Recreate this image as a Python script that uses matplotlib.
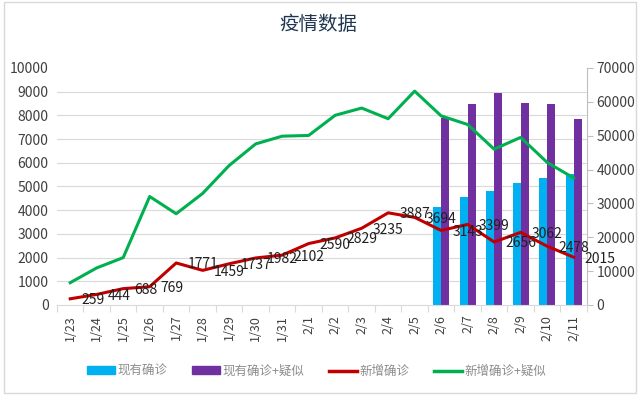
import numpy as np
import matplotlib
matplotlib.use('Agg')
import matplotlib.pyplot as plt
from matplotlib.patches import Rectangle, Patch
from matplotlib.lines import Line2D

plt.rcParams['font.family'] = ['Noto Sans CJK SC', 'DejaVu Sans']

# 数据
dates = ['1/23', '1/24', '1/25', '1/26', '1/27', '1/28', '1/29', '1/30', '1/31', '2/1',
         '2/2', '2/3', '2/4', '2/5', '2/6', '2/7', '2/8', '2/9', '2/10', '2/11']
new_confirmed = [259, 444, 688, 769, 1771, 1459, 1737, 1982, 2102, 2590,
                 2829, 3235, 3887, 3694, 3143, 3399, 2656, 3062, 2478, 2015]
new_conf_susp = [939, 1562, 1997, 4575, 3848, 4707, 5885, 6794, 7121, 7152,
                 8002, 8307, 7858, 9022, 7976, 7613, 6572, 7070, 6014, 5357]
bar_dates = ['2/6', '2/7', '2/8', '2/9', '2/10', '2/11']
existing = [28985, 31774, 33738, 35982, 37626, 38800]
existing_susp = [55344, 59431, 62680, 59571, 59301, 54867]

c_cyan = '#00B0F0'
c_purple = '#7030A0'
c_red = '#C00000'
c_green = '#00B050'

fig = plt.figure(figsize=(6.4, 3.95), dpi=100)
ax1 = fig.add_axes([0.089, 0.228, 0.828, 0.600])
ax2 = ax1.twinx()

x = np.arange(len(dates))
xb = np.array([dates.index(d) for d in bar_dates])

# 柱状图（次坐标轴）
w = 0.3
ax2.bar(xb - w / 2, existing, width=w, color=c_cyan, zorder=2)
ax2.bar(xb + w / 2, existing_susp, width=w, color=c_purple, zorder=2)
ax2.set_ylim(0, 70000)
ax2.set_yticks(np.arange(0, 70001, 10000))
# 网格线跟随主坐标轴 (每1000 -> 次轴7000)
ax2.set_yticks(np.arange(0, 70001, 7000), minor=True)
ax2.yaxis.grid(True, which='minor', color='#d9d9d9', linewidth=0.8, zorder=0)
ax2.tick_params(axis='y', which='minor', length=0)
ax2.tick_params(axis='y', which='major', length=4, color='#bfbfbf',
                labelsize=10, labelcolor='#404040', pad=3)
for s in ['top', 'left', 'bottom']:
    ax2.spines[s].set_visible(False)
ax2.spines['right'].set_color('#bfbfbf')

# 折线图（主坐标轴）
ax1.set_zorder(ax2.get_zorder() + 1)
ax1.patch.set_visible(False)
ax1.plot(x, new_conf_susp, color=c_green, linewidth=2.2, zorder=3)
ax1.plot(x, new_confirmed, color=c_red, linewidth=2.2, zorder=3)
for xi, v in zip(x, new_confirmed):
    ax1.annotate(str(v), (xi, v), xytext=(8, -1), textcoords='offset points',
                 ha='left', va='center', fontsize=10, color='#202020', zorder=4,
                 annotation_clip=False)

ax1.set_ylim(0, 10000)
ax1.set_yticks(np.arange(0, 10001, 1000))
ax1.tick_params(axis='y', length=0, labelsize=10, labelcolor='#404040', pad=6)
ax1.set_xlim(-0.5, len(dates) - 0.5)
ax1.set_xticks(np.arange(-0.5, len(dates), 1))
ax1.set_xticklabels([])
ax1.set_xticks(x, minor=True)
ax1.set_xticklabels(dates, minor=True, rotation=90, fontsize=9, color='#404040')
ax1.tick_params(axis='x', which='major', length=5, color='#d9d9d9')
ax1.tick_params(axis='x', which='minor', length=0, pad=7)
for s in ['top', 'left', 'right']:
    ax1.spines[s].set_visible(False)
ax1.spines['bottom'].set_color('#d9d9d9')

fig.text(0.497, 0.937, '疫情数据', ha='center', va='center', fontsize=14, color='#1F3550')

handles = [Patch(color=c_cyan), Patch(color=c_purple),
           Line2D([], [], color=c_red, linewidth=2.5),
           Line2D([], [], color=c_green, linewidth=2.5)]
labels = ['现有确诊', '现有确诊+疑似', '新增确诊', '新增确诊+疑似']
fig.legend(handles, labels, loc='center', bbox_to_anchor=(0.495, 0.06), ncol=4,
           frameon=False, fontsize=9, labelcolor='#8c8c8c', handlelength=2.2,
           handleheight=0.6, columnspacing=2.0, handletextpad=0.2)

# 外边框
fig.patches.append(Rectangle((0.007, 0.005), 0.987, 0.99, transform=fig.transFigure,
                             fill=False, edgecolor='#d9d9d9', linewidth=1))

fig.savefig('out.png', dpi=100)
